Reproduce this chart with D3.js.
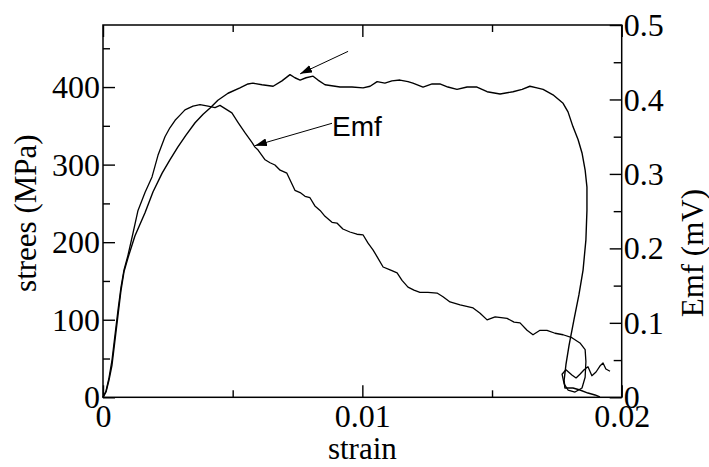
<!DOCTYPE html>
<html><head><meta charset="utf-8">
<script src="https://cdn.jsdelivr.net/npm/d3@7/dist/d3.min.js"></script>
<style>
html,body{margin:0;padding:0;background:#fff;}
svg{display:block;}
</style></head>
<body><svg id="chart" width="709" height="467"></svg>
<script>
// strain values of the stress curve
const stressStrain = [0,0.000116,0.000231,0.000347,0.000463,0.000578,0.000694,0.00081,0.000964,0.00123,0.00162,0.00193,0.00228,0.00258,0.00289,0.0032,0.00355,0.00386,0.00413,0.00443,0.00482,0.00528,0.00559,0.00578,0.00613,0.00656,0.0069,0.00721,0.0074,0.0076,0.00783,0.0081,0.00829,0.00856,0.00914,0.0096,0.01003,0.0103,0.01057,0.01087,0.01114,0.01145,0.01176,0.01195,0.01234,0.01269,0.01299,0.0133,0.01365,0.01404,0.01442,0.01481,0.01531,0.01581,0.01616,0.01646,0.01673,0.01697,0.01735,0.01774,0.01793,0.01812,0.01832,0.01847,0.01859,0.01866,0.01866,0.01862,0.01851,0.01835,0.01816,0.01797,0.01785,0.01778,0.01781,0.01812,0.01839,0.0187,0.01897,0.01916];
// stress (MPa)
const stressValues = [0,6.8,22.3,41.6,73.9,106,138,162,180,208,238,265,289,306,323,338,354,365,373,383,392,399,404,405,403,401,408,416,412,409,412,414,409,403,400,400,399,401,407,405,408,409,407,405,400,404,404,400,397,400,400,394,391,394,397,401,399,397,390,379,368,349,332,315,293,271,241,203,164,132,100,67,42,22,12,12,9.4,5.5,3,0.4];
// strain values of the Emf curve
const emfStrain = [0,0.000116,0.000231,0.000347,0.000463,0.000578,0.000694,0.00081,0.000964,0.00116,0.00135,0.00162,0.00189,0.00212,0.00239,0.00258,0.00278,0.00297,0.00316,0.00347,0.00374,0.00405,0.00432,0.00451,0.00474,0.00497,0.00521,0.00548,0.00575,0.00586,0.00598,0.00625,0.00644,0.00663,0.00683,0.00709,0.0074,0.0076,0.00779,0.00798,0.00817,0.00837,0.00856,0.00883,0.00902,0.00925,0.00952,0.00979,0.01003,0.01022,0.01041,0.0106,0.0108,0.01107,0.01134,0.01153,0.01176,0.01199,0.01222,0.01253,0.01288,0.01311,0.01338,0.01377,0.01427,0.01454,0.01481,0.01512,0.01558,0.01585,0.01608,0.01635,0.01658,0.01685,0.01712,0.01743,0.01774,0.01808,0.01839,0.01859,0.01862,0.01859,0.01847,0.0182,0.01793,0.01778,0.0177,0.01785,0.01808,0.01824,0.01839,0.01855,0.0187,0.01885,0.01901,0.01916,0.01928,0.01939,0.01955];
// Emf (mV)
const emfValues = [0,0.0085,0.026,0.05,0.084,0.117,0.148,0.171,0.191,0.221,0.251,0.275,0.296,0.325,0.35,0.362,0.372,0.379,0.386,0.391,0.393,0.391,0.389,0.392,0.387,0.382,0.369,0.355,0.342,0.336,0.332,0.319,0.315,0.312,0.305,0.301,0.278,0.275,0.27,0.268,0.257,0.251,0.243,0.235,0.234,0.226,0.222,0.219,0.218,0.207,0.198,0.187,0.175,0.171,0.167,0.157,0.148,0.144,0.141,0.141,0.14,0.135,0.128,0.124,0.12,0.113,0.104,0.108,0.106,0.101,0.1,0.09,0.084,0.09,0.09,0.086,0.084,0.08,0.073,0.064,0.048,0.027,0.0125,0.0071,0.0098,0.018,0.031,0.037,0.03,0.026,0.031,0.037,0.041,0.029,0.034,0.042,0.046,0.038,0.035];

const xTicks = [0, 0.01, 0.02];
const xTickLabels = ["0", "0.01", "0.02"];
const xMinorTicks = [0.005, 0.015];
const yLeftTicks = [0, 100, 200, 300, 400];
const yLeftMinor = [50, 150, 250, 350, 450];
const yRightTicks = [0, 0.1, 0.2, 0.3, 0.4, 0.5];
const yRightTickLabels = ["0", "0.1", "0.2", "0.3", "0.4", "0.5"];
const yRightMinor = [0.05, 0.15, 0.25, 0.35, 0.45];

const svg = d3.select("#chart");
const L = 103, T = 25, R = 621.7, B = 397.3;
const x = d3.scaleLinear().domain([0, 0.02]).range([L, R]);
const yL = d3.scaleLinear().domain([0, 480]).range([B, T]);
const yR = d3.scaleLinear().domain([0, 0.5]).range([B, T]);

const SERIF = "Liberation Serif";
const fs = 32;

// curves
const stressData = stressStrain.map((s, i) => [s, stressValues[i]]);
const emfData = emfStrain.map((s, i) => [s, emfValues[i]]);
svg.append("path").datum(stressData)
  .attr("d", d3.line().x(d => x(d[0])).y(d => yL(d[1])))
  .attr("fill", "none").attr("stroke", "#000").attr("stroke-width", 1.4).attr("stroke-linejoin", "round");
svg.append("path").datum(emfData)
  .attr("d", d3.line().x(d => x(d[0])).y(d => yR(d[1])))
  .attr("fill", "none").attr("stroke", "#000").attr("stroke-width", 1.3).attr("stroke-linejoin", "round");

// frame
svg.append("rect").attr("x", L).attr("y", T).attr("width", R - L).attr("height", B - T)
  .attr("fill", "none").attr("stroke", "#000").attr("stroke-width", 1.5);

function styleAxis(g) {
  g.select(".domain").remove();
  g.selectAll(".tick line").attr("stroke", "#000").attr("stroke-width", 1.4);
  g.selectAll(".tick text").style("font-family", SERIF).style("font-size", fs + "px").attr("fill", "#000");
}

// bottom axis
svg.append("g").attr("transform", `translate(0,${B})`)
  .call(d3.axisBottom(x).tickValues(xTicks).tickFormat((d, i) => xTickLabels[i]).tickSizeInner(-12).tickSizeOuter(0).tickPadding(7))
  .call(styleAxis);
svg.append("g").attr("transform", `translate(0,${B})`)
  .call(d3.axisBottom(x).tickValues(xMinorTicks).tickFormat("").tickSizeInner(-7).tickSizeOuter(0))
  .call(styleAxis);
// top axis ticks
svg.append("g").attr("transform", `translate(0,${T})`)
  .call(d3.axisTop(x).tickValues(xTicks).tickFormat("").tickSizeInner(-12).tickSizeOuter(0))
  .call(styleAxis);
svg.append("g").attr("transform", `translate(0,${T})`)
  .call(d3.axisTop(x).tickValues(xMinorTicks).tickFormat("").tickSizeInner(-7).tickSizeOuter(0))
  .call(styleAxis);

// left axis
const gL = svg.append("g").attr("transform", `translate(${L},0)`)
  .call(d3.axisLeft(yL).tickValues(yLeftTicks).tickFormat(d3.format("d")).tickSizeInner(-12).tickSizeOuter(0))
  .call(styleAxis);
gL.selectAll(".tick text").attr("x", -3).attr("dy", "0.33em");
svg.append("g").attr("transform", `translate(${L},0)`)
  .call(d3.axisLeft(yL).tickValues(yLeftMinor).tickFormat("").tickSizeInner(-7).tickSizeOuter(0))
  .call(styleAxis);

// right axis
const gR = svg.append("g").attr("transform", `translate(${R},0)`)
  .call(d3.axisRight(yR).tickValues(yRightTicks).tickFormat((d, i) => yRightTickLabels[i]).tickSizeInner(-12).tickSizeOuter(0))
  .call(styleAxis);
gR.selectAll(".tick text").attr("x", 2).attr("dy", "0.33em");
svg.append("g").attr("transform", `translate(${R},0)`)
  .call(d3.axisRight(yR).tickValues(yRightMinor).tickFormat("").tickSizeInner(-8).tickSizeOuter(0))
  .call(styleAxis);

// axis titles
svg.append("text").attr("x", x(0.01)).attr("y", 459).attr("text-anchor", "middle")
  .style("font-family", SERIF).style("font-size", "31px").text("strain");
svg.append("text").attr("transform", `translate(36,${(T + B) / 2 + 2}) rotate(-90)`)
  .attr("text-anchor", "middle").style("font-family", SERIF).style("font-size", "31px").text("strees (MPa)");
svg.append("text").attr("transform", `translate(703,${(T + B) / 2 + 42}) rotate(-90)`)
  .attr("text-anchor", "middle").style("font-family", SERIF).style("font-size", "31px").text("Emf (mV)");

// annotations (arrows)
const defs = svg.append("defs");
defs.append("marker").attr("id", "ah").attr("viewBox", "0 0 12 8").attr("refX", 12).attr("refY", 4)
  .attr("markerWidth", 12).attr("markerHeight", 8).attr("markerUnits", "userSpaceOnUse").attr("orient", "auto")
  .append("path").attr("d", "M0,0 L12,4 L0,8 Z").attr("fill", "#000");

// arrow 1 points at the stress curve peak region
svg.append("line").attr("x1", x(0.00945)).attr("y1", yL(446)).attr("x2", x(0.0076)).attr("y2", yL(417))
  .attr("stroke", "#000").attr("stroke-width", 1).attr("marker-end", "url(#ah)");
// arrow 2 labelled Emf
svg.append("line").attr("x1", x(0.00883)).attr("y1", yR(0.368)).attr("x2", x(0.00586)).attr("y2", yR(0.338))
  .attr("stroke", "#000").attr("stroke-width", 1).attr("marker-end", "url(#ah)");
svg.append("text").attr("x", x(0.00883)).attr("y", yR(0.3515))
  .style("font-family", "Liberation Sans").style("font-size", "28px").text("Emf");
</script></body></html>
